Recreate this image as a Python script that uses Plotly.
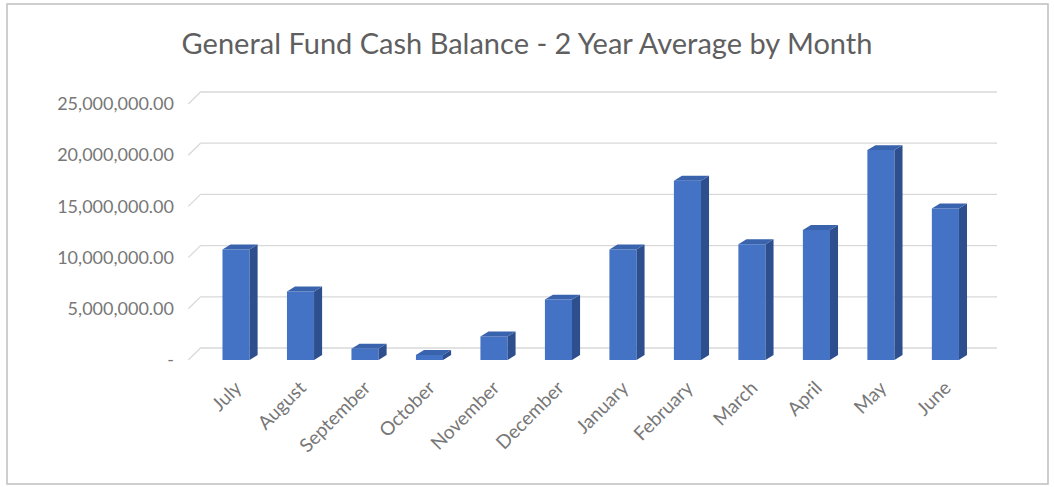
import plotly.graph_objects as go

months = ["July", "August", "September", "October", "November", "December",
          "January", "February", "March", "April", "May", "June"]
balances = [10800000, 6700000, 1100000, 500000, 2300000, 5900000,
            10800000, 17500000, 11300000, 12700000, 20500000, 14800000]
tick_values = [0, 5000000, 10000000, 15000000, 20000000, 25000000]
tick_labels = ["-", "5,000,000.00", "10,000,000.00", "15,000,000.00",
               "20,000,000.00", "25,000,000.00"]

# styling constants for the pseudo-3D look
half_w = 0.21        # half width of front face (category units)
depth_x = 0.125      # horizontal depth offset of bars
depth_y = 480000     # vertical depth offset of bars (value units)
wall_shift = 1170000 # back wall offset (value units)
wall_x0, wall_x1, front_x0 = -0.55, 11.8, -0.74
y_range = [0, 26560000]

xs = list(range(len(months)))

fig = go.Figure()

# back-wall gridlines and side stubs (main axes, drawn underneath)
gx, gy = [], []
for v in tick_values:
    gx += [front_x0, wall_x0, wall_x1, None]
    gy += [v, v + wall_shift, v + wall_shift, None]
fig.add_trace(go.Scatter(
    x=gx, y=gy, mode="lines", line=dict(color="#d9d9d9", width=1.3),
    hoverinfo="skip", showlegend=False, xaxis="x", yaxis="y",
))

# front faces (overlay axis, drawn on top)
fig.add_trace(go.Bar(
    x=xs, y=balances, width=2 * half_w,
    marker=dict(color="#4472C4", line=dict(width=0)),
    hoverinfo="x+y", showlegend=False, xaxis="x", yaxis="y2",
))

# side faces
sx, sy = [], []
for i, v in zip(xs, balances):
    sx += [i + half_w, i + half_w + depth_x, i + half_w + depth_x, i + half_w, i + half_w, None]
    sy += [0, depth_y, v + depth_y, v, 0, None]
fig.add_trace(go.Scatter(
    x=sx, y=sy, mode="lines", fill="toself", fillcolor="#2D4F8E",
    line=dict(width=0, color="#2D4F8E"), hoverinfo="skip", showlegend=False,
    xaxis="x", yaxis="y2",
))

# top faces
tx, ty = [], []
for i, v in zip(xs, balances):
    tx += [i - half_w, i + half_w, i + half_w + depth_x, i - half_w + depth_x, i - half_w, None]
    ty += [v, v, v + depth_y, v + depth_y, v, None]
fig.add_trace(go.Scatter(
    x=tx, y=ty, mode="lines", fill="toself", fillcolor="#3A63AE",
    line=dict(width=0, color="#3A63AE"), hoverinfo="skip", showlegend=False,
    xaxis="x", yaxis="y2",
))

gray = "#777777"
font_family = "Lato, Open Sans, sans-serif"
fig.update_layout(
    width=1054, height=487,
    margin=dict(l=187, r=57, t=88, b=127),
    paper_bgcolor="white", plot_bgcolor="white",
    barmode="overlay",
    title=dict(text="General Fund Cash Balance - 2 Year Average by Month",
               x=0.5, xref="container", xanchor="center", y=1 - 44 / 487, yref="container",
               yanchor="middle",
               font=dict(family=font_family, size=29, color="#5f5f5f")),
    font=dict(family=font_family, color=gray),
    xaxis=dict(
        tickmode="array", tickvals=xs, ticktext=months, tickangle=-45,
        range=[-0.76, 11.8],
        showgrid=False, zeroline=False, showline=False, ticks="",
        ticklabelstandoff=12,
        tickfont=dict(size=19, color=gray),
    ),
    yaxis=dict(
        tickmode="array", tickvals=tick_values, ticktext=tick_labels,
        range=y_range,
        showgrid=False, zeroline=False, showline=False, ticks="",
        ticklabelstandoff=12,
        tickfont=dict(size=18, color=gray),
    ),
    yaxis2=dict(
        overlaying="y", range=y_range, visible=False,
        showgrid=False, zeroline=False,
    ),
    shapes=[dict(type="rect", xref="paper", yref="paper",
                 x0=(7 - 187) / 810, x1=(1048 - 187) / 810,
                 y0=(360 - 484) / 272, y1=(360 - 4) / 272,
                 line=dict(color="#bfbfbf", width=1.5), fillcolor="rgba(0,0,0,0)",
                 layer="below")],
)

fig.write_html("out.html")
